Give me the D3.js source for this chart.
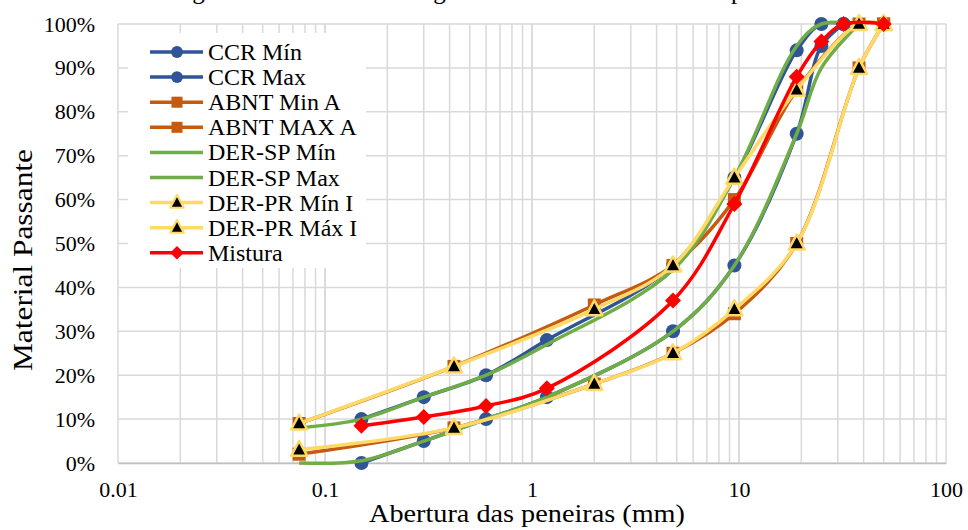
<!DOCTYPE html>
<html>
<head>
<meta charset="utf-8">
<script src="https://cdn.jsdelivr.net/npm/d3@7"></script>
<style>
  body { margin: 0; background: #fff; }
  svg text { font-family: "Liberation Serif", "Times New Roman", serif; fill: #000; }
</style>
</head>
<body>
<script>
// sieve openings (mm) and % passing for each series
var ccrSieves = [0.15, 0.3, 0.6, 1.18, 4.8, 9.5, 19, 25, 32];
var ccrMin = [0, 5, 10, 15, 30, 45, 75, 95, 100];
var ccrMax = [10, 15, 20, 28, 45, 65, 94, 100, 100];

var abntSieves = [0.075, 0.42, 2.0, 4.8, 9.5, 19, 38, 50];
var abntMin = [2, 8, 18, 25, 34, 50, 90, 100];
var abntMax = [9, 22, 36, 45, 60, 85, 100, 100];

var derSpSieves = [0.075, 0.15, 0.3, 0.6, 1.18, 4.8, 9.5, 19, 25, 38];
var derSpMin = [0, 0.5, 5, 10, 15, 30, 45, 75, 90, 100];
var derSpMax = [8, 10, 15, 20, 27, 44, 65, 95, 100, 100];

var derPrSieves = [0.075, 0.42, 2.0, 4.8, 9.5, 19, 38, 50];
var derPrMin = [3, 8, 18, 25, 35, 50, 90, 100];
var derPrMax = [9, 22, 35, 45, 65, 85, 100, 100];

var misturaSieves = [0.15, 0.3, 0.6, 1.18, 4.8, 9.5, 19, 25, 32, 50];
var mistura = [8.5, 10.5, 13, 17, 37, 59, 88, 96, 100, 100];

var xTicks = [0.01, 0.1, 1, 10, 100];
var yTicks = [0, 10, 20, 30, 40, 50, 60, 70, 80, 90, 100];

var series = [
  {name: "CCR Mín", x: ccrSieves, y: ccrMin, color: "#2F5597", marker: "circle"},
  {name: "CCR Max", x: ccrSieves, y: ccrMax, color: "#2F5597", marker: "circle"},
  {name: "ABNT Min A", x: abntSieves, y: abntMin, color: "#C55A11", marker: "square"},
  {name: "ABNT MAX A", x: abntSieves, y: abntMax, color: "#C55A11", marker: "square"},
  {name: "DER-SP Mín", x: derSpSieves, y: derSpMin, color: "#70AD47", marker: "none"},
  {name: "DER-SP Max", x: derSpSieves, y: derSpMax, color: "#70AD47", marker: "none"},
  {name: "DER-PR Mín I", x: derPrSieves, y: derPrMin, color: "#FFD966", marker: "triangle"},
  {name: "DER-PR Máx I", x: derPrSieves, y: derPrMax, color: "#FFD966", marker: "triangle"},
  {name: "Mistura", x: misturaSieves, y: mistura, color: "#FF0000", marker: "diamond"}
];

var W = 968, H = 530;
var margin = {top: 24, right: 22, bottom: 67, left: 118};
var width = W - margin.left - margin.right,
    height = H - margin.top - margin.bottom;

var svg = d3.select("body").append("svg")
  .attr("width", W).attr("height", H);

// title, cut off at the top like the original
svg.append("text")
  .attr("x", 125).attr("y", -1)
  .style("font-size", "25px")
  .text("Curva granulométrica e faixas granulométricas do CCR compactado a rolo");

var g = svg.append("g")
  .attr("transform", "translate(" + margin.left + "," + margin.top + ")");

var x = d3.scaleLog().domain([0.01, 100]).range([0, width]);
var y = d3.scaleLinear().domain([0, 100]).range([height, 0]);

// grid lines (major + minor on log axis)
var minor = [];
for (var d = 0.01; d < 100; d *= 10) {
  for (var k = 1; k <= 10; k++) minor.push(+(d * k).toPrecision(3));
}
g.append("g").selectAll("line").data(minor).enter().append("line")
  .attr("x1", function (v) { return x(v); }).attr("x2", function (v) { return x(v); })
  .attr("y1", 0).attr("y2", height)
  .attr("stroke", "#d9d9d9").attr("stroke-width", 1.5);
g.append("g").selectAll("line").data(yTicks).enter().append("line")
  .attr("x1", 0).attr("x2", width)
  .attr("y1", function (v) { return y(v); }).attr("y2", function (v) { return y(v); })
  .attr("stroke", "#d9d9d9").attr("stroke-width", 1.5);

// axes
var xAxis = g.append("g")
  .attr("transform", "translate(0," + height + ")")
  .call(d3.axisBottom(x).tickValues(xTicks).tickSize(0).tickPadding(18)
    .tickFormat(function (v) { return String(v); }));
xAxis.select(".domain").attr("stroke", "#bfbfbf").attr("stroke-width", 1.5);
xAxis.selectAll("text").style("font-size", "22px").style("font-family", "Liberation Serif");

var yAxis = g.append("g")
  .call(d3.axisLeft(y).tickValues(yTicks).tickSize(0).tickPadding(23)
    .tickFormat(function (v) { return v + "%"; }));
yAxis.select(".domain").remove();
yAxis.selectAll("text").style("font-size", "22px").style("font-family", "Liberation Serif");

// axis titles
svg.append("text")
  .attr("x", 527).attr("y", 522)
  .attr("text-anchor", "middle")
  .attr("textLength", 316).attr("lengthAdjust", "spacingAndGlyphs")
  .style("font-size", "26px")
  .text("Abertura das peneiras (mm)");
svg.append("text")
  .attr("transform", "translate(32,260) rotate(-90)")
  .attr("text-anchor", "middle")
  .attr("textLength", 222).attr("lengthAdjust", "spacingAndGlyphs")
  .style("font-size", "27px")
  .text("Material Passante");

var line = d3.line()
  .x(function (p) { return x(p[0]); })
  .y(function (p) { return y(p[1]); })
  .curve(d3.curveCatmullRom.alpha(0.5));

function drawMarker(sel, type, color, s) {
  s = s || 1;
  if (type === "circle") {
    sel.append("circle").attr("r", 7 * s).attr("fill", color);
  } else if (type === "square") {
    sel.append("rect").attr("x", -6.5 * s).attr("y", -6.5 * s)
      .attr("width", 13 * s).attr("height", 13 * s)
      .attr("fill", color);
  } else if (type === "triangle") {
    sel.append("path").attr("d", "M0,-9 L8,6 L-8,6 Z")
      .attr("transform", "scale(" + s + ")")
      .attr("fill", "#000").attr("stroke", color).attr("stroke-width", 2.5)
      .attr("stroke-linejoin", "round");
  } else if (type === "diamond") {
    sel.append("path").attr("d", "M0,-8 L8,0 L0,8 L-8,0 Z")
      .attr("transform", "scale(" + s + ")").attr("fill", color);
  }
}

var plot = g.append("g");
series.forEach(function (s) {
  var pts = s.x.map(function (v, i) { return [v, s.y[i]]; });
  var sg = plot.append("g");
  sg.append("path").datum(pts)
    .attr("d", line)
    .attr("fill", "none")
    .attr("stroke", s.color)
    .attr("stroke-width", 3.5)
    .attr("stroke-linejoin", "round");
  if (s.marker !== "none") {
    sg.selectAll(".m").data(pts).enter().append("g")
      .attr("transform", function (p) { return "translate(" + x(p[0]) + "," + y(p[1]) + ")"; })
      .each(function () { drawMarker(d3.select(this), s.marker, s.color); });
  }
});

// legend
var legend = svg.append("g").attr("transform", "translate(128,33)");
legend.append("rect").attr("width", 238).attr("height", 235).attr("fill", "#fff");
series.forEach(function (s, i) {
  var ly = 19 + i * 25.1;
  var row = legend.append("g").attr("transform", "translate(0," + ly + ")");
  row.append("line").attr("x1", 22).attr("x2", 75).attr("y1", 0).attr("y2", 0)
    .attr("stroke", s.color).attr("stroke-width", 3.5);
  var mk = row.append("g").attr("transform", "translate(49,0)");
  drawMarker(mk, s.marker, s.color, 0.85);
  row.append("text").attr("x", 80).attr("y", 8)
    .style("font-size", "24px")
    .text(s.name);
});
</script>
</body>
</html>
